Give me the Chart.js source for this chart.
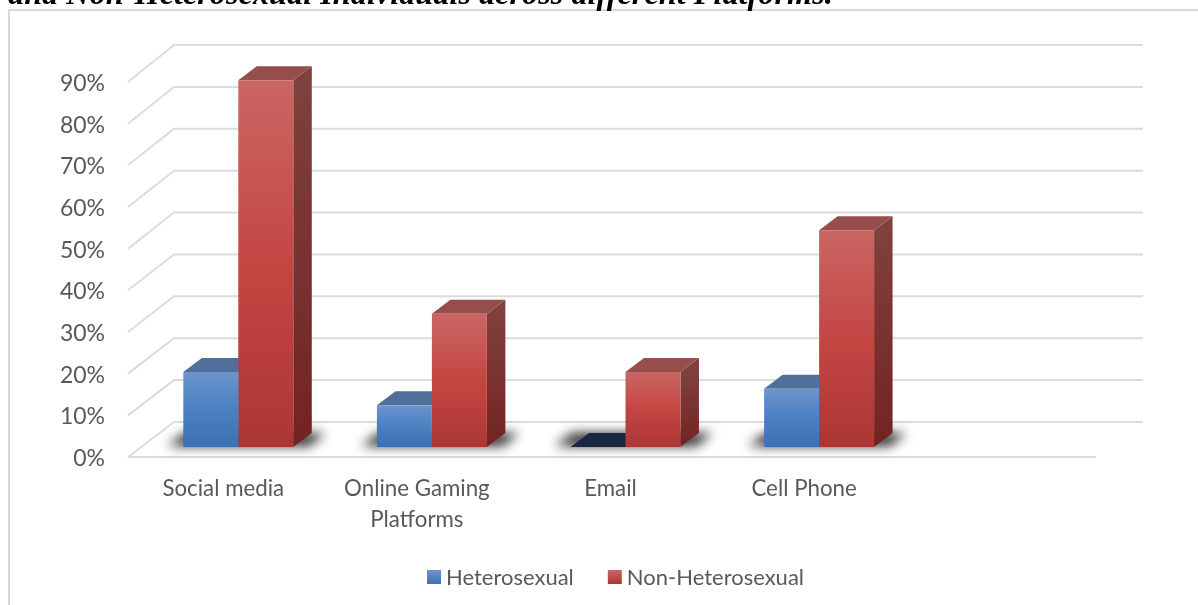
<!DOCTYPE html>
<html>
<head>
<meta charset="utf-8">
<script src="https://cdn.jsdelivr.net/npm/chart.js@4"></script>
<style>
html,body{margin:0;padding:0;background:#fff;width:1198px;height:605px;overflow:hidden}
#head{position:absolute;left:8px;top:-25px;font:italic bold 32.3px "Liberation Serif",serif;color:#000;white-space:nowrap;z-index:2}
canvas{position:absolute;left:0;top:0}
</style>
</head>
<body>
<div id="head">and Non-Heterosexual Individuals across different Platforms.</div>
<canvas id="c" width="1198" height="605"></canvas>
<script>
const categories = ["Social media", ["Online Gaming", "Platforms"], "Email", "Cell Phone", ""];
const heterosexual = [18, 10, 0, 14, null];
const nonHeterosexual = [88, 32, 18, 52, null];
const seriesNames = ["Heterosexual", "Non-Heterosexual"];
const tickValues = [0, 10, 20, 30, 40, 50, 60, 70, 80, 90];

const FONT = 'Lato';
const FS = 22;
const TEXT = '#595959';
const GRID = '#dcdcdc';
const palette = [
  {top:'#6c95cc', mid:'#4b80c2', bot:'#3b70b3', cap:'#50709b', sideT:'#3f5f8c', sideB:'#2c4c7a', zero:'#16273f'},
  {top:'#ca6663', mid:'#c44643', bot:'#ad3633', cap:'#954e4c', sideT:'#7f403e', sideB:'#732321', zero:'#5a1f1e'}
];
const DX = 18.5, DY = -14;

function faceFill(ctx, p, y0, y1){
  const g = ctx.createLinearGradient(0, y0, 0, y1);
  g.addColorStop(0, p.top); g.addColorStop(.5, p.mid); g.addColorStop(1, p.bot);
  return g;
}
function barFill(i){
  return function(c){
    const p = palette[i];
    if (c.type !== 'data' || c.raw == null) return p.mid;
    const y = c.chart.scales.y;
    return faceFill(c.chart.ctx, p, y.getPixelForValue(c.raw), y.getPixelForValue(0));
  };
}
function poly(ctx, pts){
  ctx.beginPath();
  pts.forEach((q, i) => i ? ctx.lineTo(q[0], q[1]) : ctx.moveTo(q[0], q[1]));
  ctx.closePath();
}

const scene = {
  id: 'scene',
  afterLayout(chart){
    const l = chart.legend;
    l.left += 40; l.right += 40; l.top -= 6; l.bottom -= 6;
  },
  beforeDraw(chart){
    const ctx = chart.ctx;
    ctx.save();
    ctx.strokeStyle = '#d9d9d9'; ctx.lineWidth = 2;
    ctx.beginPath(); ctx.moveTo(9, 605); ctx.lineTo(9, 10); ctx.lineTo(1198, 10); ctx.stroke();
    ctx.restore();
  },
  beforeDatasetsDraw(chart){
    const ctx = chart.ctx, y = chart.scales.y, x = chart.scales.x;
    const fl = x.left - 13.5, fr = x.right - 13.5, bl = fl + 46, br = fr + 47;
    ctx.save();
    ctx.strokeStyle = GRID; ctx.lineWidth = 2;
    tickValues.forEach(v => {
      const p = y.getPixelForValue(v);
      const front = p + 10, back = p - 25 - v / 45;
      ctx.beginPath();
      ctx.moveTo(fl, front); ctx.lineTo(bl, back); ctx.lineTo(br, back);
      if (v === 0) { ctx.moveTo(fl, front); ctx.lineTo(fr, front); }
      ctx.stroke();
    });
    // soft floor shadows under each group
    ctx.save();
    ctx.filter = 'blur(6px)';
    ctx.fillStyle = 'rgba(0,0,0,.85)';
    const a = chart.getDatasetMeta(0).data, b = chart.getDatasetMeta(1).data;
    categories.forEach((_, i) => {
      if (heterosexual[i] == null) return;
      const L = a[i].x - a[i].width / 2, R = b[i].x + b[i].width / 2, B = y.getPixelForValue(0);
      poly(ctx, [[L - 16, B - 1], [L + 2, B - 14], [R + 32, B - 14], [R + 16, B - 1]]);
      ctx.fill();
    });
    ctx.restore();
    // top and side faces, blue first; the library's front faces go over them
    [0, 1].forEach(d => {
      const p = palette[d];
      const vals = chart.data.datasets[d].data;
      chart.getDatasetMeta(d).data.forEach((el, i) => {
        if (vals[i] == null) return;
        const L = el.x - el.width / 2, R = el.x + el.width / 2, T = el.y, B = el.base;
        const g = ctx.createLinearGradient(0, T, 0, B);
        g.addColorStop(0, p.sideT); g.addColorStop(1, p.sideB);
        if (vals[i] > 0) {
          ctx.fillStyle = g;
          poly(ctx, [[R, T], [R + DX, T + DY], [R + DX, B + DY], [R, B]]);
          ctx.fill();
        }
        ctx.fillStyle = vals[i] > 0 ? p.cap : p.zero;
        poly(ctx, [[L, T], [L + DX, T + DY], [R + DX, T + DY], [R, T]]);
        ctx.fill();
      });
    });
    ctx.restore();
  },
  afterDraw(chart){
    const ctx = chart.ctx;
    chart.legend.legendHitBoxes.forEach((h, i) => {
      const p = palette[i], top = 570;
      const g = ctx.createLinearGradient(0, top, 0, top + 14);
      g.addColorStop(0, p.top); g.addColorStop(1, p.bot);
      ctx.fillStyle = g;
      ctx.fillRect(h.left, top, 14, 14);
    });
  }
};

new Chart(document.getElementById('c'), {
  type: 'bar',
  data: {
    labels: categories,
    datasets: [
      {label: seriesNames[0], data: heterosexual, backgroundColor: barFill(0)},
      {label: seriesNames[1], data: nonHeterosexual, backgroundColor: barFill(1)}
    ]
  },
  plugins: [scene],
  options: {
    responsive: false,
    animation: false,
    devicePixelRatio: 1,
    layout: {padding: {left: 41.5, right: 88.5, top: 72, bottom: 0}},
    datasets: {bar: {categoryPercentage: 0.568, barPercentage: 1}},
    font: {family: FONT, size: FS},
    scales: {
      x: {
        grid: {display: false, drawTicks: false},
        border: {display: false},
        afterFit(s){ s.height = 92; },
        ticks: {
          autoSkip: false, maxRotation: 0, minRotation: 0, padding: 26, labelOffset: -15,
          color: TEXT, font: {family: FONT, size: 22.3, lineHeight: 1.39}
        }
      },
      y: {
        min: 0, max: 90,
        afterFit(s){ s.width = 100; },
        afterBuildTicks(s){ s.ticks = tickValues.map(v => ({value: v})); },
        grid: {display: false, drawTicks: false},
        border: {display: false},
        ticks: {
          padding: 36.5, labelOffset: 11.5, color: TEXT, font: {family: FONT, size: 23},
          callback: v => v + '%'
        }
      }
    },
    plugins: {
      title: {display: false},
      tooltip: {enabled: false},
      legend: {
        display: true, position: 'bottom',
        labels: {
          boxWidth: 8, boxHeight: 14, padding: 34, color: TEXT,
          font: {family: FONT, size: FS},
          generateLabels(chart){
            return chart.data.datasets.map((d, i) => ({
              text: d.label, fillStyle: 'rgba(0,0,0,0)', strokeStyle: 'rgba(0,0,0,0)',
              lineWidth: 0, datasetIndex: i, fontColor: TEXT
            }));
          }
        }
      }
    }
  }
});
</script>
</body>
</html>
